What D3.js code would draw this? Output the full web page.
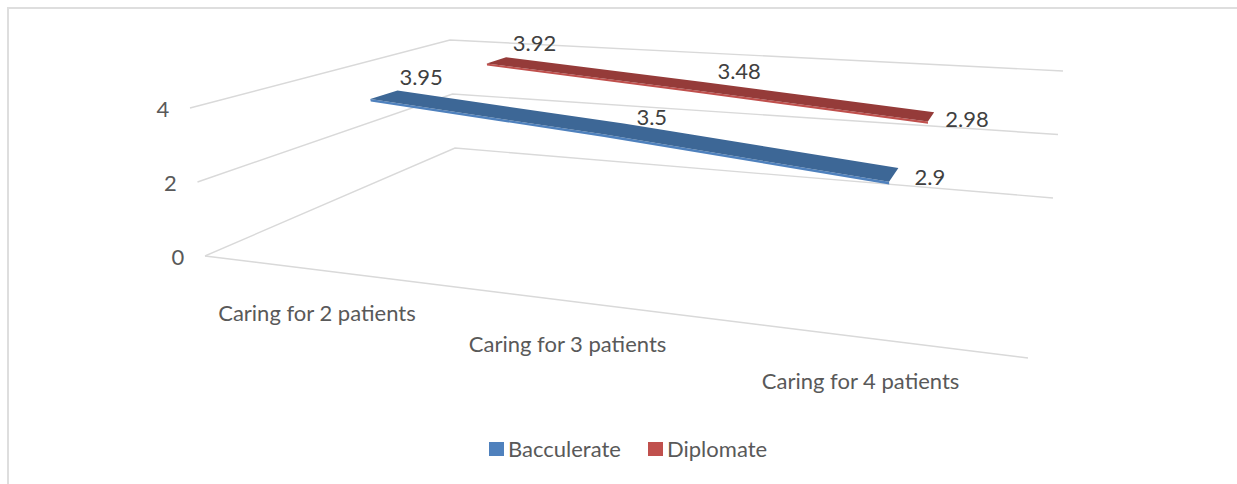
<!DOCTYPE html>
<html>
<head>
<meta charset="utf-8">
<script src="https://cdn.jsdelivr.net/npm/d3@7"></script>
<style>
  html, body { margin: 0; padding: 0; background: #fff; }
  svg { display: block; }
  text { font-family: Lato, "Open Sans", sans-serif; }
</style>
</head>
<body>
<svg id="chart" width="1237" height="484"></svg>
<script>
// Chart data
const categories = ["Caring for 2 patients", "Caring for 3 patients", "Caring for 4 patients"];
const seriesNames = ["Bacculerate", "Diplomate"];
const bacculerate = [3.95, 3.5, 2.9];
const diplomate = [3.92, 3.48, 2.98];
const valueTicks = [0, 2, 4];
const seriesValues = [bacculerate, diplomate];

// Styling
const gridColor = "#d9d9d9";
const topColors = ["#3d6796", "#953b39"];
const edgeColors = ["#4f81bd", "#c0504d"];
const legendColors = ["#4f81bd", "#c0504d"];

const W = 1237, H = 484;
const svg = d3.select("#chart").attr("viewBox", [0, 0, W, H]);

// The plot box: corners of the floor (value 0) and of the top plane (value 4).
const box = {
  fl: { 0: [205, 256], 4: [190, 108] },
  fr: { 0: [1028, 358], 4: [1043, 188] },
  br: { 0: [1053, 198], 4: [1063, 71] },
  bl: { 0: [455, 148], 4: [450, 40] }
};

// Each corner slides linearly with the value.
const cornerAt = (c, v) => [
  d3.scaleLinear().domain([0, 4]).range([c[0][0], c[4][0]])(v),
  d3.scaleLinear().domain([0, 4]).range([c[0][1], c[4][1]])(v)
];

// Perspective map from the unit square (u along categories, d into depth)
// onto the box's quadrilateral at the height of value v.
function project(u, d, v) {
  const [x0, y0] = cornerAt(box.fl, v);
  const [x1, y1] = cornerAt(box.fr, v);
  const [x2, y2] = cornerAt(box.br, v);
  const [x3, y3] = cornerAt(box.bl, v);
  const dx1 = x1 - x2, dx2 = x3 - x2, sx = x0 - x1 + x2 - x3;
  const dy1 = y1 - y2, dy2 = y3 - y2, sy = y0 - y1 + y2 - y3;
  const den = dx1 * dy2 - dx2 * dy1;
  const g = (sx * dy2 - dx2 * sy) / den;
  const h = (dx1 * sy - sx * dy1) / den;
  const a = x1 - x0 + g * x1, b = x3 - x0 + h * x3;
  const e = y1 - y0 + g * y1, f = y3 - y0 + h * y3;
  const w = g * u + h * d + 1;
  return [(a * u + b * d + x0) / w, (e * u + f * d + y0) / w];
}

const uScale = d3.scalePoint().domain(categories).range([0.18, 0.842]);
const labelU = d3.scalePoint().domain(categories).range([1 / 6, 5 / 6]);
const depthScale = d3.scalePoint().domain(seriesNames).range([0.27, 0.76]);
const ribbonDepth = 0.05;
const ribbonDrop = 0.07;

const line = d3.line();
const poly = pts => line(pts) + "Z";

// Gridlines: left wall and back wall at every tick, plus the floor's front edge.
const grid = svg.append("g").attr("fill", "none").attr("stroke", gridColor).attr("stroke-width", 1.4);
valueTicks.forEach(t => {
  grid.append("path").attr("d", line([project(0, 0, t), project(0, 1, t), project(1, 1, t)]));
});
grid.append("path").attr("d", line([project(0, 0, 0), project(1, 0, 0)]));

// Border along the top and left of the chart area
svg.append("path").attr("d", line([[8, H], [8, 8], [W, 8]]))
  .attr("fill", "none").attr("stroke", "#dedede").attr("stroke-width", 2);

// Value axis labels
svg.append("g").selectAll("text").data(valueTicks).join("text")
  .attr("x", t => project(0, 0, t)[0] - 27)
  .attr("y", t => project(0, 0, t)[1] + 9)
  .attr("text-anchor", "middle")
  .attr("font-size", 22).attr("fill", "#595959")
  .text(d => d);

// Category labels below the floor's front edge
const categoryOffsets = [[-1, 51], [-2, 51], [-2, 51]];
svg.append("g").selectAll("text").data(categories).join("text")
  .attr("x", (c, k) => project(labelU(c), 0, 0)[0] + categoryOffsets[k][0])
  .attr("y", (c, k) => project(labelU(c), 0, 0)[1] + categoryOffsets[k][1])
  .attr("text-anchor", "middle")
  .attr("font-size", 22).attr("fill", "#595959")
  .text(d => d);

// 3D ribbons, back series first
seriesNames.map((name, i) => ({ name, i })).reverse().forEach(({ name, i }) => {
  const vals = seriesValues[i];
  const dc = depthScale(name);
  const at = (k, d, v) => project(uScale(categories[k]), d, v);
  const near = vals.map((v, k) => at(k, dc - ribbonDepth, v));
  const far = vals.map((v, k) => at(k, dc + ribbonDepth, v));
  const low = vals.map((v, k) => at(k, dc - ribbonDepth, v - ribbonDrop));
  svg.append("path").attr("d", poly(near.concat(low.slice().reverse()))).attr("fill", edgeColors[i]);
  svg.append("path").attr("d", poly(far.concat(near.slice().reverse()))).attr("fill", topColors[i]);
});

// Data labels, nudged off the ribbon depending on series and category position
const labelOffsets = [
  [[37, -10], [38, -4], [36, 10]],
  [[38, -9], [43, -7], [36, 10]]
];
seriesNames.forEach((name, i) => {
  svg.append("g").selectAll("text").data(seriesValues[i]).join("text")
    .attr("x", (v, k) => project(uScale(categories[k]), depthScale(name), v)[0] + labelOffsets[i][k][0])
    .attr("y", (v, k) => project(uScale(categories[k]), depthScale(name), v)[1] + labelOffsets[i][k][1])
    .attr("text-anchor", "middle")
    .attr("font-size", 22).attr("fill", "#404040")
    .text(d => d);
});

// Legend
const legendX = [489, 648];
const legend = svg.append("g").selectAll("g").data(seriesNames).join("g")
  .attr("transform", (d, i) => `translate(${legendX[i]},442)`);
legend.append("rect").attr("width", 15).attr("height", 14).attr("fill", (d, i) => legendColors[i]);
legend.append("text").attr("x", 19).attr("y", 14.5)
  .attr("font-size", 22).attr("fill", "#595959")
  .text(d => d);
</script>
</body>
</html>
